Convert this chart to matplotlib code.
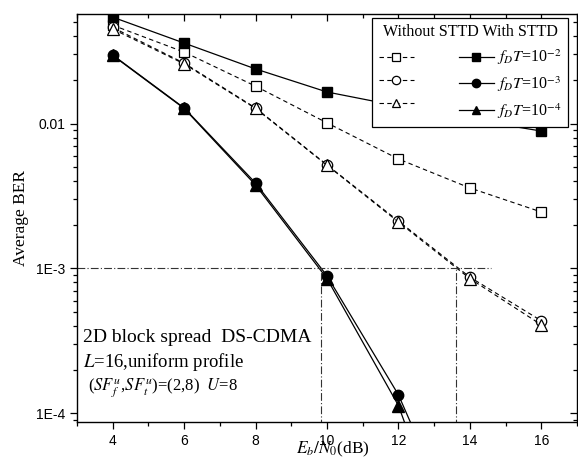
import matplotlib
matplotlib.use("Agg")
import matplotlib.pyplot as plt
from matplotlib.ticker import FixedLocator, LogLocator, NullFormatter, FixedFormatter, MultipleLocator

plt.rcParams["mathtext.fontset"] = "stix"

# Eb/N0 (dB)
snr = [4, 6, 8, 10, 12, 14, 16]

# without STTD (dashed, open markers)
ber_wo_2 = [0.0477, 0.0311, 0.0181, 0.0101, 0.00569, 0.00359, 0.00245]
ber_wo_3 = [0.0460, 0.0261, 0.0128, 0.00518, 0.00212, 0.00087, 0.000435]
ber_wo_4 = [0.0449, 0.0258, 0.0127, 0.00515, 0.00209, 0.00085, 0.000408]

# with STTD (solid, filled markers)
ber_w_2 = [0.0542, 0.0359, 0.0238, 0.0165, 0.0132, 0.0107, 0.00887]
snr_w = [4, 6, 8, 10, 12, 14]
ber_w_3 = [0.0297, 0.0128, 0.00388, 0.000888, 0.000134, 0.00001]
ber_w_4 = [0.0295, 0.0127, 0.00376, 0.00085, 0.000113, 0.000005]

labels = [r"$f_DT$=10$^{-2}$", r"$f_DT$=10$^{-3}$", r"$f_DT$=10$^{-4}$"]

# 1E-3 crossing guides
ref_ber = 1e-3
ref_x = [9.83, 13.6]
ref_x_end = 14.6

serif = ["Liberation Serif", "DejaVu Serif"]

fig = plt.figure(figsize=(5.78, 4.59), dpi=100)
ax = fig.add_axes([77 / 578, 1 - 422 / 459, 500 / 578, 408 / 459])

dash = (0, (4, 3))
kw_open = dict(color="black", lw=0.8, linestyle=dash, mfc="white", mec="black", mew=0.9)
kw_fill = dict(color="black", lw=0.9, linestyle="-", mfc="black", mec="black")

h1, = ax.plot(snr, ber_wo_2, marker="s", ms=6.5, **kw_open)
h2, = ax.plot(snr, ber_wo_3, marker="o", ms=7.5, **kw_open)
h3, = ax.plot(snr, ber_wo_4, marker="^", ms=8, **kw_open)
h6, = ax.plot(snr_w, ber_w_4, marker="^", ms=8, **kw_fill)
h5, = ax.plot(snr_w, ber_w_3, marker="o", ms=7.5, **kw_fill)
h4, = ax.plot(snr, ber_w_2, marker="s", ms=6.5, **kw_fill)

# dash-dot guides at BER = 1E-3
dd = (0, (7, 2, 1, 2))
ax.plot([3, ref_x_end], [ref_ber, ref_ber], color="#333333", lw=0.8, linestyle=dd)
for xv in ref_x:
    ax.plot([xv, xv], [8e-5, ref_ber], color="#333333", lw=0.8, linestyle=dd)

ax.set_yscale("log")
ax.set_xlim(3, 17)
ax.set_ylim(8.7e-5, 0.057)

ax.xaxis.set_major_locator(MultipleLocator(2))
ax.xaxis.set_minor_locator(MultipleLocator(1))
ax.yaxis.set_major_locator(FixedLocator([1e-4, 1e-3, 1e-2]))
ax.yaxis.set_major_formatter(FixedFormatter(["1E-4", "1E-3", "0.01"]))
ax.yaxis.set_minor_locator(LogLocator(base=10, subs=range(2, 10)))
ax.yaxis.set_minor_formatter(NullFormatter())

ax.tick_params(which="both", direction="out", labelsize=10, width=0.9)
ax.tick_params(which="major", length=5)
ax.tick_params(which="minor", length=3)
# opposite axes carry inward ticks, no labels
ax.tick_params(which="both", top=True, right=True, labeltop=False, labelright=False)
for t in ax.xaxis.get_major_ticks() + ax.xaxis.get_minor_ticks():
    t.tick2line.set_marker(3)
for t in ax.yaxis.get_major_ticks() + ax.yaxis.get_minor_ticks():
    t.tick2line.set_marker(0)
for lab in ax.get_xticklabels() + ax.get_yticklabels():
    lab.set_fontfamily("Liberation Sans")
for sp in ax.spines.values():
    sp.set_linewidth(1.0)

ax.set_ylabel("Average BER", fontsize=12.5, family=serif)
ax.yaxis.set_label_coords(-0.095, 0.5)
ax.set_xlabel(r"$E_b/N_0$(dB)", fontsize=12.5, family=serif)
ax.xaxis.set_label_coords(0.512, -0.044)

ax.text(0.012, 0.206, "2D block spread  DS-CDMA", transform=ax.transAxes,
        fontsize=14, family=serif, va="center")
ax.text(0.012, 0.147, r"$L$=16,uniform profile", transform=ax.transAxes,
        fontsize=13.5, family=serif, va="center")
ax.text(0.022, 0.083, r"($SF_f^u$,$SF_t^u$)=(2,8)  $U$=8", transform=ax.transAxes,
        fontsize=12, family=serif, va="center")

leg = ax.legend([h1, h2, h3, h4, h5, h6], ["", "", ""] + labels,
                ncol=2, loc="upper right",
                bbox_to_anchor=(576 / 578, 1 - 10 / 459), bbox_transform=fig.transFigure,
                title="Without STTD With STTD",
                prop={"family": serif, "size": 11.5},
                title_fontproperties={"family": serif, "size": 11.5},
                frameon=True, fancybox=False, framealpha=1, edgecolor="black",
                handlelength=2.2, handletextpad=0.2, columnspacing=2.6,
                labelspacing=0.45, borderpad=0.4, markerscale=0.8)
leg.get_frame().set_linewidth(0.9)
leg.set_zorder(5)

fig.savefig("out.png", dpi=100)
